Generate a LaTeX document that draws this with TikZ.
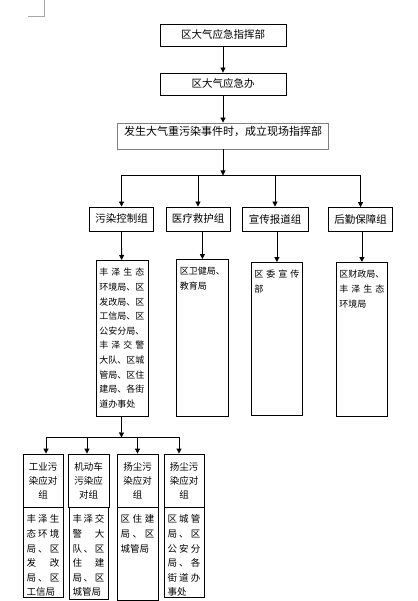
\documentclass[tikz,border=0pt]{standalone}
\usepackage{fontspec}
\setmainfont{Noto Sans CJK SC}
\usetikzlibrary{positioning,arrows.meta}

\begin{document}
\begin{tikzpicture}[
  x=1pt, y=-1pt,
  >={Triangle[length=5pt,width=5pt]},
  box/.style={draw, line width=0.8pt, inner sep=0pt, align=center, font=\fontsize{10.5}{13}\selectfont},
  head/.style={box, minimum width=126pt, minimum height=22pt},
  grp/.style={box, minimum width=64pt, minimum height=24pt},
  list/.style={draw, line width=0.8pt, align=left, anchor=north west, inner xsep=3.5pt, inner ysep=3pt, text height=12.5pt, text width=45pt, font=\fontsize{9}{14.6}\selectfont},
  ttl/.style={box, minimum width=40pt, minimum height=53pt, font=\fontsize{9.5}{14}\selectfont},
  sub/.style={list, outer sep=0pt, text width=33pt, font=\fontsize{9.5}{14.6}\selectfont},
  arr/.style={->, line width=0.8pt}
]
\useasboundingbox (0,0) rectangle (417,601);
\draw[gray!70, line width=0.6pt] (28,16) -- (44,16) -- (44,0);

% ---------------- command chain ----------------
\node[head] (hq) at (223,35) {区大气应急指挥部};
\node[head] (office) at (223,84) {区大气应急办};
\node[box, draw=gray, minimum width=211pt, text height=12.5pt, text depth=13.5pt, font=\fontsize{11}{13}\selectfont] (field) at (223,136) {发生大气重污染事件时，成立现场指挥部};
\draw[arr] (hq) -- (office);
\draw[arr] (office) -- (field);

% ---------------- working groups ----------------
\coordinate (bus1) at (223,175.5);
\node[grp] (g1) at (121.5,219) {污染控制组};
\node[grp] (g2) at (198,219) {医疗救护组};
\node[grp, minimum width=66pt] (g3) at (275,219) {宣传报道组};
\node[grp] (g4) at (360.5,219.5) {后勤保障组};
\draw[arr] (field) -- (bus1);
\draw[arr] (bus1) -| (g1);
\draw[arr] (bus1) -| (g2);
\draw[arr] (bus1) -| (g3);
\draw[arr] (bus1) -| (g4);

% member units of each group
\node[list, text depth=137.5pt] (d1) at (95.5,260) {丰\hfill 泽\hfill 生\hfill 态\\环境局、区\\发改局、区\\工信局、区\\公安分局、\\丰\hfill 泽\hfill 交\hfill 警\\大队、区城\\管局、区住\\建局、各街\\道办事处};
\node[list, text depth=138.5pt] (d2) at (176,259) {区卫健局、\\教育局};
\node[list, inner xsep=3pt, text depth=134.5pt] (d3) at (251,262) {区\hfill 委\hfill 宣\hfill 传\\部};
\node[list, inner xsep=3pt, text depth=135.5pt] (d4) at (336,262) {区财政局、\\丰\hfill 泽\hfill 生\hfill 态\\环境局};
\draw[arr] (g1) -- (d1);
\draw[arr] (d2.north |- g2.south) -- (d2.north);
\draw[arr] (d3.north |- g3.south) -- (d3.north);
\draw[arr] (d4.north |- g4.south) -- (d4.north);

% ---------------- pollution control sub-groups ----------------
\coordinate (bus2) at (121.5,437.5);
\node[ttl] (s1) at (43,480.5) {工业污\\染应对\\组};
\node[ttl, minimum width=41pt] (s2) at (88.5,480.5) {机动车\\污染应\\对组};
\node[ttl, minimum width=41pt] (s3) at (137.5,480.5) {扬尘污\\染应对\\组};
\node[ttl] (s4) at (184,480.5) {扬尘污\\染应对\\组};
\node[sub, below=0pt of s1, text depth=71.5pt] (m1) {丰\hfill 泽\hfill 生\\态\hfill 环\hfill 境\\局\hfill 、\hfill 区\\发\hfill 改\\局\hfill 、\hfill 区\\工信局};
\node[sub, below=0pt of s2, text width=32pt, text depth=73.5pt] (m2) {丰\hfill 泽\hfill 交\\警\hfill 大\\队\hfill 、\hfill 区\\住\hfill 建\\局\hfill 、\hfill 区\\城管局};
\node[sub, below=0pt of s3, text width=34pt, text depth=74.5pt] (m3) {区\hfill 住\hfill 建\\局\hfill 、\hfill 区\\城管局};
\node[sub, below=0pt of s4, text depth=71.5pt] (m4) {区\hfill 城\hfill 管\\局\hfill 、\hfill 区\\公\hfill 安\hfill 分\\局\hfill 、\hfill 各\\街\hfill 道\hfill 办\\事处};
\draw[arr] (d1) -- (bus2);
\draw[arr] (bus2) -| ([xshift=3pt]s1.north);
\draw[arr] (bus2) -| ([xshift=-1.5pt]s2.north);
\draw[arr] (bus2) -| (s3);
\draw[arr] (bus2) -| ([xshift=-5pt]s4.north);
\end{tikzpicture}
\end{document}
